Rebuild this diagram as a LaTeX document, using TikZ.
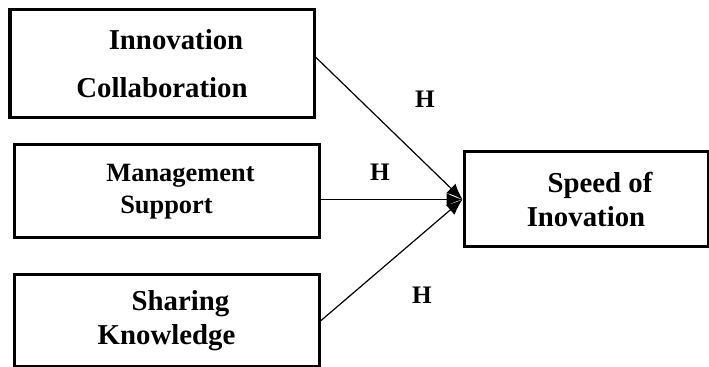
\documentclass[tikz,border=0pt]{standalone}
\usepackage{fontspec}
\setmainfont{Liberation Serif}
\usepackage{tikz}
\usetikzlibrary{arrows.meta, positioning}
\tikzstyle{arrow} = [line width=0.6pt,-{Latex[length=8pt,width=6.5pt]}]
\tikzstyle{component} = [rectangle, draw=black, line width=1.5pt, fill=white, align=center, font=\bfseries\fontsize{14.4}{17}\selectfont, inner sep=0pt]
\tikzstyle{hlabel} = [font=\bfseries\fontsize{12.6}{14}\selectfont, inner sep=0pt]

\begin{document}
\begin{tikzpicture}[x=0.5pt, y=-0.5pt]
    \useasboundingbox (0,0) rectangle (709,367);
    % Factors
    \node[component, minimum width=152pt, minimum height=54pt] (c1) at (162,64) {\hspace*{14pt}Innovation\\[7pt]Collaboration};
    \node[component, minimum width=152.5pt, minimum height=46.5pt, font=\bfseries\fontsize{13.2}{16}\selectfont] (c2) at (166.5,191.5) {\hspace*{14pt}Management\\Support};
    \node[component, minimum width=152.5pt, minimum height=46pt] (c3) at (166.5,321) {\hspace*{14pt}Sharing\\Knowledge};
    
    % Outcome
    \node[component, minimum width=122pt, minimum height=47.5pt] (s1) at (586,199.5) {\hspace*{14pt}Speed of\\Inovation};
    
    % Arrows
    \draw[arrow] ([yshift=3.5pt]c1.east) -- (s1.west);
    \draw[arrow] (c2.east |- s1.west) -- (s1.west);
    \draw[arrow] (c3.east) -- (s1.west);
    
    % Labels
    \node[hlabel] (h1) at (425,99) {H};
    \node[hlabel] (h2) at (380,172) {H};
    \node[hlabel] (h3) at (422,295) {H};
    
\end{tikzpicture}
\end{document}
